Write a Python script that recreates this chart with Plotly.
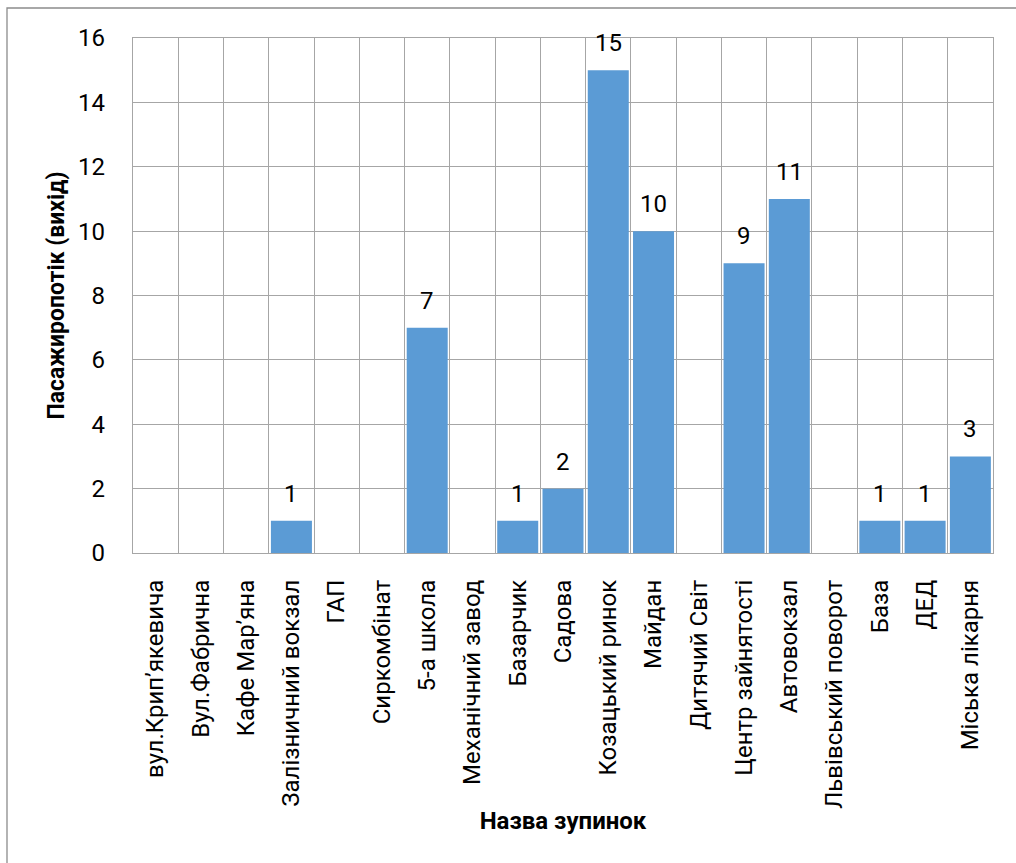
import plotly.graph_objects as go

stops = [
    "вул.Крип’якевича", "Вул.Фабрична", "Кафе Мар’яна", "Залізничний вокзал",
    "ГАП", "Сиркомбінат", "5-а школа", "Механічний завод", "Базарчик", "Садова",
    "Козацький ринок", "Майдан", "Дитячий Світ", "Центр зайнятості",
    "Автовокзал", "Львівський поворот", "База", "ДЕД", "Міська лікарня",
]
passengers_out = [0, 0, 0, 1, 0, 0, 7, 0, 1, 2, 15, 10, 0, 9, 11, 0, 1, 1, 3]
y_ticks = [0, 2, 4, 6, 8, 10, 12, 14, 16]

W, H = 1016, 863
L, R, T, B = 133, 23, 38, 310
FONT = "Roboto"
FS = 24
GRID = "#a6a6a6"

fig = go.Figure(
    go.Bar(
        x=stops,
        y=passengers_out,
        marker=dict(color="#5b9bd5", line=dict(width=0)),
        hoverinfo="x+y",
    )
)

# value labels above non-empty bars
for name, v in zip(stops, passengers_out):
    if v:
        fig.add_annotation(
            x=name, y=v, text=str(v), showarrow=False,
            yanchor="bottom", yshift=11,
            font=dict(family=FONT, size=FS, color="#000"),
        )

pw, ph = W - L - R, H - T - B
# outer chart border (top and left edges)
fig.add_shape(
    type="rect", xref="paper", yref="paper",
    x0=(7 - L) / pw, x1=(W + 20 - L) / pw,
    y0=(H - T - B - (H + 20 - T)) / ph, y1=(H - B - 8) / ph,
    line=dict(color="#8c8c8c", width=1.3), fillcolor="rgba(0,0,0,0)",
    layer="below",
)

fig.update_layout(
    width=W, height=H,
    margin=dict(l=L, r=R, t=T, b=B, pad=0),
    paper_bgcolor="white", plot_bgcolor="white",
    bargap=0.094,
    showlegend=False,
    font=dict(family=FONT, size=FS, color="#000"),
    xaxis=dict(
        type="category",
        tickangle=-90,
        tickson="boundaries",
        showgrid=True, gridcolor=GRID, gridwidth=1.3,
        showline=True, linecolor=GRID, linewidth=1.3, mirror=True,
        ticks="", ticklabelstandoff=16,
        tickfont=dict(family=FONT, size=FS),
        title=dict(text="<b>Назва зупинок</b>", font=dict(family=FONT, size=FS), standoff=4),
    ),
    yaxis=dict(
        range=[0, 16],
        tickvals=y_ticks,
        showgrid=True, gridcolor=GRID, gridwidth=1.3,
        showline=True, linecolor=GRID, linewidth=1.3, mirror=True,
        zeroline=False,
        ticks="", ticklabelstandoff=22,
        tickfont=dict(family=FONT, size=FS),
        title=dict(text="<b>Пасажиропотік (вихід)</b>", font=dict(family=FONT, size=23), standoff=7),
    ),
)

fig.write_html("out.html")
